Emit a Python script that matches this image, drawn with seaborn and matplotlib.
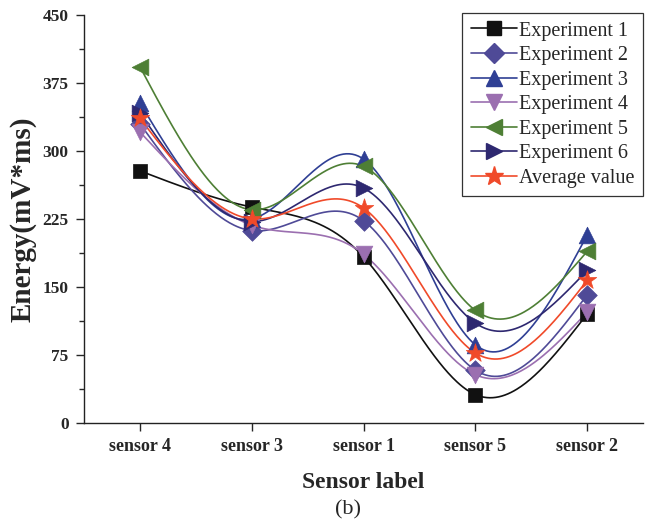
import numpy as np
import pandas as pd
import seaborn as sns
import matplotlib
matplotlib.use("Agg")
import matplotlib.pyplot as plt
from matplotlib.lines import Line2D
from matplotlib.ticker import MultipleLocator

# Energy per sensor
sensors = ["sensor 4", "sensor 3", "sensor 1", "sensor 5", "sensor 2"]
exp1 = [278, 238, 183, 31, 120]
exp2 = [330, 212, 223, 58, 141]
exp3 = [353, 225, 291, 86, 207]
exp4 = [321, 218, 186, 53, 122]
exp5 = [393, 235, 283, 124, 189]
exp6 = [342, 222, 259, 110, 168]
average = [336, 225, 237, 77, 157]

names = ["Experiment 1", "Experiment 2", "Experiment 3", "Experiment 4",
         "Experiment 5", "Experiment 6", "Average value"]
series = [exp1, exp2, exp3, exp4, exp5, exp6, average]
colors = ["#111111", "#4f4a97", "#2f3f94", "#9b6fb0", "#4e7f35", "#2e2870", "#f04a2a"]
markers = ["s", "D", "^", "v", "<", ">", "*"]
sizes = [10, 10, 12, 12, 12, 12, 14]

df = pd.DataFrame({
    "sensor": sensors * len(names),
    "pos": list(range(len(sensors))) * len(names),
    "energy": sum(series, []),
    "series": [n for n in names for _ in sensors],
})


def natural_spline(x, y, n=300):
    # natural cubic spline through the points, just for drawing the smooth line
    x = np.asarray(x, float)
    y = np.asarray(y, float)
    k = len(x)
    h = np.diff(x)
    A = np.zeros((k, k))
    b = np.zeros(k)
    A[0, 0] = A[-1, -1] = 1
    for i in range(1, k - 1):
        A[i, i - 1] = h[i - 1]
        A[i, i] = 2 * (h[i - 1] + h[i])
        A[i, i + 1] = h[i]
        b[i] = 6 * ((y[i + 1] - y[i]) / h[i] - (y[i] - y[i - 1]) / h[i - 1])
    M = np.linalg.solve(A, b)
    xs = np.linspace(x[0], x[-1], n)
    idx = np.clip(np.searchsorted(x, xs) - 1, 0, k - 2)
    x0, x1 = x[idx], x[idx + 1]
    hh = x1 - x0
    ys = (M[idx] * (x1 - xs) ** 3 / (6 * hh) + M[idx + 1] * (xs - x0) ** 3 / (6 * hh)
          + (y[idx] / hh - M[idx] * hh / 6) * (x1 - xs)
          + (y[idx + 1] / hh - M[idx + 1] * hh / 6) * (xs - x0))
    return xs, ys


sns.set_style("ticks")
plt.rcParams["font.family"] = ["Liberation Serif", "DejaVu Serif"]

fig = plt.figure(figsize=(6.49, 5.25), dpi=100)
ax = fig.add_axes([0.1294, 0.1949, 0.8614, 0.7765])

for name, col, mk, ms in zip(names, colors, markers, sizes):
    sub = df[df["series"] == name]
    xs, ys = natural_spline(sub["pos"], sub["energy"])
    ax.plot(xs, ys, color=col, lw=1.2, zorder=2)
    sns.scatterplot(data=sub, x="pos", y="energy", marker=mk, color=col,
                    s=ms ** 2, edgecolor=col, linewidth=0.5, ax=ax, zorder=3, legend=False)

ax.set_xlim(-0.5, 4.5)
ax.set_ylim(0, 450)
ax.set_xticks(range(len(sensors)))
ax.set_xticklabels(sensors, fontsize=13, fontweight="bold")
ax.yaxis.set_major_locator(MultipleLocator(75))
ax.yaxis.set_minor_locator(MultipleLocator(37.5))
for lab in ax.get_yticklabels():
    lab.set_fontsize(12.5)
    lab.set_fontweight("bold")
ax.tick_params(axis="both", which="major", direction="out", length=6, width=1, pad=5)
ax.tick_params(axis="y", which="minor", direction="out", length=3.5, width=1)
for s in ["left", "bottom"]:
    ax.spines[s].set_linewidth(1)
    ax.spines[s].set_color("#222222")
sns.despine(ax=ax)

ax.set_xlabel("Sensor label", fontsize=17, fontweight="bold", labelpad=12)
ax.set_ylabel("Energy(mV*ms)", fontsize=21, fontweight="bold", labelpad=4)

handles = [Line2D([], [], color=c, marker=m, markersize=s, lw=1.2, markeredgecolor=c)
           for c, m, s in zip(colors, markers, sizes)]
leg = ax.legend(handles, names, loc="upper right", bbox_to_anchor=(1.0, 1.005),
                fontsize=14.5, frameon=True, fancybox=False, framealpha=1,
                edgecolor="#333333", handlelength=2.3, handletextpad=0.1,
                labelspacing=0.27, borderpad=0.42, borderaxespad=0.0)
leg.get_frame().set_linewidth(0.9)

fig.text(0.536, 0.029, "(b)", fontsize=16, ha="center", va="center")

fig.savefig("out.png", dpi=100)
